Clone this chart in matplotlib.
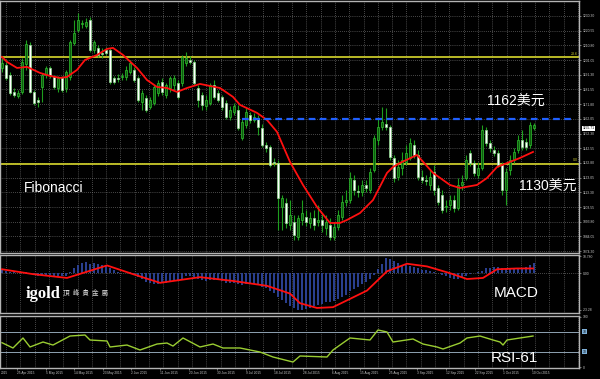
import matplotlib
matplotlib.use("Agg")
import numpy as np
import matplotlib.pyplot as plt
from matplotlib.transforms import blended_transform_factory

# ---- daily gold candles (bar index 0..133), prices in USD ----
opens = [1195.8, 1197.8, 1191.2, 1179.9, 1177.2, 1179.9, 1198.4, 1211.1, 1179.9, 1174.6,
         1183.2, 1191.2, 1195.8, 1189.8, 1182.5, 1189.2, 1182.5, 1189.8, 1212.4, 1221.0,
         1225.0, 1223.7, 1227.6, 1207.7, 1209.1, 1205.7, 1207.7, 1207.7, 1189.2, 1189.2,
         1189.8, 1189.8, 1193.1, 1194.5, 1189.2, 1173.2, 1175.9, 1169.9, 1172.6, 1179.2,
         1186.5, 1177.9, 1182.5, 1184.5, 1185.8, 1185.8, 1199.1, 1201.1, 1199.8, 1182.5,
         1177.9, 1170.6, 1172.6, 1184.5, 1179.2, 1176.6, 1172.6, 1163.3, 1166.6, 1167.9,
         1149.4, 1158.0, 1164.6, 1161.3, 1162.6, 1156.0, 1144.7, 1143.4, 1133.5, 1132.8,
         1103.6, 1106.3, 1091.7, 1093.7, 1083.7, 1095.0, 1097.0, 1093.0, 1096.3, 1093.7,
         1095.0, 1089.7, 1091.7, 1083.7, 1090.3, 1097.0, 1106.9, 1108.2, 1121.5, 1114.2,
         1113.6, 1118.2, 1114.9, 1128.1, 1148.0, 1156.7, 1158.7, 1156.7, 1136.1, 1123.5,
         1129.5, 1133.5, 1136.1, 1144.7, 1138.1, 1123.5, 1121.5, 1118.2, 1126.8, 1116.2,
         1111.6, 1103.6, 1104.9, 1108.2, 1102.9, 1118.2, 1122.8, 1139.4, 1132.8, 1124.8,
         1129.5, 1154.7, 1146.1, 1141.4, 1139.4, 1131.5, 1114.9, 1128.1, 1134.8, 1141.4,
         1148.0, 1146.7, 1144.7, 1156.0]
closes = [1199.1, 1189.2, 1179.2, 1177.9, 1179.2, 1199.8, 1211.7, 1179.9, 1172.6, 1173.2,
          1191.2, 1195.8, 1191.2, 1183.2, 1189.2, 1181.2, 1193.1, 1213.0, 1219.0, 1227.6,
          1225.6, 1226.3, 1207.7, 1213.0, 1204.4, 1205.1, 1205.7, 1186.5, 1186.5, 1188.5,
          1190.5, 1194.5, 1199.1, 1187.8, 1174.6, 1179.2, 1167.9, 1174.6, 1183.2, 1185.8,
          1179.9, 1184.5, 1189.2, 1189.2, 1176.6, 1203.1, 1202.4, 1199.8, 1185.8, 1174.6,
          1171.3, 1174.6, 1184.5, 1176.6, 1174.6, 1169.9, 1163.3, 1167.9, 1170.6, 1156.0,
          1160.0, 1166.6, 1161.3, 1163.3, 1156.7, 1144.7, 1142.7, 1131.5, 1132.8, 1109.6,
          1109.6, 1093.0, 1098.3, 1085.0, 1096.3, 1099.6, 1093.7, 1096.3, 1091.7, 1095.0,
          1091.7, 1093.7, 1083.7, 1090.3, 1098.3, 1106.9, 1108.2, 1122.8, 1114.9, 1113.6,
          1118.2, 1116.2, 1126.8, 1149.4, 1156.7, 1160.0, 1156.7, 1136.8, 1122.8, 1130.1,
          1134.8, 1139.4, 1146.1, 1138.1, 1123.5, 1121.5, 1120.8, 1123.5, 1114.9, 1106.9,
          1101.6, 1104.3, 1108.2, 1102.9, 1118.2, 1120.2, 1134.8, 1132.8, 1126.2, 1129.5,
          1154.7, 1146.1, 1142.7, 1139.4, 1131.5, 1114.9, 1126.8, 1134.8, 1140.1, 1148.0,
          1143.4, 1143.4, 1158.0, 1158.0]
highs = [1202.4, 1199.8, 1193.1, 1182.5, 1181.2, 1202.4, 1214.4, 1213.0, 1181.2, 1176.6,
         1192.5, 1197.1, 1197.1, 1191.2, 1190.5, 1190.5, 1194.5, 1214.4, 1227.6, 1232.3,
         1227.6, 1229.0, 1229.6, 1214.4, 1211.1, 1209.1, 1209.7, 1209.1, 1190.5, 1191.8,
         1192.5, 1197.1, 1201.1, 1196.5, 1190.5, 1181.2, 1177.9, 1176.6, 1184.5, 1187.8,
         1189.2, 1185.8, 1190.5, 1191.2, 1187.8, 1204.4, 1206.4, 1203.8, 1201.1, 1184.5,
         1179.9, 1177.9, 1185.8, 1187.8, 1181.2, 1177.9, 1174.6, 1170.6, 1172.6, 1171.3,
         1162.6, 1169.3, 1166.6, 1166.0, 1164.6, 1158.7, 1146.7, 1144.7, 1136.1, 1134.8,
         1111.6, 1109.6, 1108.2, 1098.3, 1098.3, 1108.2, 1101.6, 1100.3, 1101.6, 1104.9,
         1099.6, 1098.3, 1096.3, 1093.7, 1101.6, 1111.6, 1114.9, 1126.8, 1124.8, 1118.2,
         1121.5, 1121.5, 1129.5, 1151.4, 1162.6, 1169.9, 1169.3, 1158.0, 1138.1, 1134.8,
         1140.1, 1144.7, 1149.4, 1148.0, 1141.4, 1128.1, 1124.8, 1128.1, 1131.5, 1118.2,
         1114.9, 1108.2, 1111.6, 1111.6, 1122.8, 1124.8, 1138.1, 1141.4, 1134.8, 1133.5,
         1158.0, 1156.7, 1148.0, 1144.1, 1141.4, 1133.5, 1129.5, 1138.1, 1142.7, 1151.4,
         1154.7, 1149.4, 1160.0, 1159.3]
lows = [1193.1, 1187.8, 1177.9, 1176.6, 1175.9, 1178.6, 1194.5, 1179.2, 1171.3, 1169.9,
        1173.2, 1189.2, 1189.2, 1181.9, 1179.9, 1179.9, 1179.9, 1187.8, 1211.1, 1219.7,
        1222.3, 1222.3, 1206.4, 1205.7, 1203.1, 1202.4, 1204.4, 1185.2, 1185.2, 1186.5,
        1187.8, 1187.8, 1191.8, 1186.5, 1173.2, 1167.9, 1166.6, 1168.6, 1171.3, 1177.2,
        1177.9, 1175.9, 1179.9, 1181.2, 1175.2, 1183.9, 1197.1, 1198.4, 1184.5, 1169.9,
        1167.9, 1167.9, 1171.3, 1175.2, 1173.2, 1167.9, 1162.0, 1161.3, 1164.6, 1154.7,
        1148.0, 1156.0, 1159.3, 1160.0, 1151.4, 1143.4, 1140.1, 1130.1, 1130.8, 1088.3,
        1088.3, 1089.7, 1088.3, 1081.7, 1081.7, 1091.7, 1091.0, 1089.7, 1088.3, 1091.0,
        1087.0, 1085.0, 1081.7, 1081.7, 1088.3, 1095.0, 1104.3, 1106.3, 1111.6, 1110.2,
        1110.9, 1113.6, 1112.9, 1126.8, 1144.7, 1154.7, 1154.7, 1134.8, 1120.2, 1121.5,
        1124.8, 1131.5, 1134.8, 1136.1, 1121.5, 1119.5, 1118.2, 1114.9, 1111.6, 1104.9,
        1099.6, 1100.3, 1101.6, 1100.3, 1101.6, 1114.9, 1121.5, 1130.8, 1124.2, 1122.8,
        1128.1, 1144.1, 1140.1, 1137.4, 1130.1, 1111.6, 1104.9, 1124.8, 1132.8, 1139.4,
        1141.4, 1141.4, 1142.7, 1154.7]

# moving average (red), sampled along the curve
ma_x = [0, 1.25, 3.75, 6.25, 9.5, 12, 14.5, 16.25, 18.75, 20.75, 23.75, 26.25, 27.75,
        30.25, 33.75, 36.25, 38.75, 41.25, 43.75, 46.25, 49.5, 54.5, 57.75, 59.5, 63.75,
        66.25, 68.75, 72, 75.25, 78.75, 82, 84.5, 86.25, 89.5, 92.75, 96.25, 97.75, 99.5,
        103.75, 107.75, 112, 114.5, 118.75, 121.25, 123.75, 127, 129.5, 132.75]
ma_y = [1203.1, 1199.8, 1195.8, 1196.5, 1192.5, 1190.5, 1189.2, 1189.8, 1194.5, 1201.1,
        1204.4, 1208.4, 1209.1, 1204.4, 1195.8, 1187.8, 1183.2, 1182.5, 1179.9, 1182.5,
        1185.2, 1182.5, 1176.6, 1171.3, 1166.0, 1161.3, 1153.4, 1133.5, 1118.2, 1103.6,
        1093.0, 1093.0, 1095.0, 1099.6, 1108.2, 1126.2, 1130.1, 1132.8, 1138.1, 1126.2,
        1118.2, 1116.2, 1118.2, 1122.8, 1130.1, 1133.5, 1136.1, 1140.1]

fib_levels = [1203.1, 1132.3]
fib_names = ["23.6", "0.0"]
target_price = 1162.0
last_price = 1155.7

# MACD histogram (one value per bar) and signal line samples
macd_hist = [2.0, 1.5, 1.0, 0.5, 0.0, 0.5, 1.0, 0.0,
             -1.0, -1.5, -1.5, -1.0, -1.0, -1.5, -2.0, -2.0, -1.5,
             0.5, 3.0, 5.0, 6.5, 7.0, 6.0, 6.5, 6.0, 5.5, 5.0, 3.0,
             2.0, 1.0, 0.0, 0.0, 0.5, -0.5, -2.5,
             -3.5, -5.5, -6.5, -7.0, -7.0, -6.5, -6.0, -5.0, -4.5, -5.0,
             -3.5, -2.0, -1.5, -2.5, -3.5, -4.5,
             -5.0, -4.5, -4.0, -4.5, -5.0, -6.0, -6.5, -6.5, -7.0, -7.5, -7.0, -7.0, -7.0, -7.5,
             -8.5, -9.5, -11.0, -12.5, -15.0, -17.0, -19.0, -21.0, -22.0, -23.0,
             -23.0, -22.5, -22.0, -21.0, -20.0, -19.5, -18.5, -18.0, -17.5, -16.5,
             -15.0, -13.5, -11.5, -10.0, -8.5, -7.0, -5.5, -3.5, -1.0, 2.5, 6.0,
             9.5, 9.0, 8.0, 6.5, 5.5, 5.0, 4.5, 4.0, 3.0, 2.0,
             2.0, 1.5, 1.0, 0.0, -1.0, -2.0, -3.0, -3.5,
             -3.5, -2.5, -1.5, -0.5, 0.0, 0.5, 1.5,
             3.0, 3.5, 4.0, 4.0, 3.0, 2.5, 2.5, 3.0, 3.5, 3.5, 4.0, 5.0, 6.5]
sig_x = [0, 7.75, 16.25, 26.25, 32.75, 39.5, 49.5, 57.75, 66.25, 72, 74.5, 78.75, 82.75,
         91.25, 96.25, 101.25, 106.25, 112, 116.25, 120.25, 123.75, 128.75, 132.75]
sig_y = [2.5, -0.6, -3.0, 4.9, -0.6, -6.1, -2.5, -4.9, -8.0, -12.9, -19.0, -22.0, -21.5,
         -11.0, 1.2, 6.0, 4.3, 0.0, -3.7, -3.0, 2.5, 3.0, 3.0]

# RSI(61) samples
rsi_x = [0, 2.75, 5.25, 7, 10.25, 12.75, 17, 20.75, 22, 26.25, 27, 31.25, 34.5, 38.75,
         41.25, 42.75, 45.25, 49.5, 52.75, 55.25, 59.5, 64.5, 67.75, 72.75, 74.5, 81.25,
         82.75, 87, 92, 94, 96.25, 97.75, 102.75, 105.25, 108.75, 110.25, 114.5, 116.25,
         119.5, 122.75, 124.5, 125.25, 126.25, 129.5, 132.75]
rsi_y = [48.3, 37.8, 57.7, 39.8, 49.7, 43.7, 61.6, 63.6, 53.7, 51.7, 39.8, 43.7, 33.8, 45.7,
         47.7, 41.7, 57.7, 39.8, 45.7, 37.8, 37.8, 29.8, 19.9, 9.9, 21.9, 19.9, 33.8, 57.7,
         53.7, 73.6, 69.6, 49.7, 55.7, 45.7, 39.8, 35.8, 47.7, 57.7, 61.6, 53.7, 49.7, 43.7,
         53.7, 57.7, 61.6]

price_ticks = [1230.30, 1220.55, 1210.80, 1201.05, 1191.30, 1181.55, 1171.80, 1162.05,
               1152.30, 1142.55, 1132.80, 1123.05, 1113.30, 1103.55, 1093.80, 1084.05, 1074.30]
date_pos = [3.75, 10.9, 18.05, 25.2, 32.35, 39.5, 46.65, 53.8, 60.95, 68.1, 75.25, 82.4,
            89.55, 96.7, 103.85, 111.0, 118.15, 125.3, 132.45]
date_labels = ["25 Apr 2015", "5 May 2015", "14 May 2015", "23 May 2015", "2 Jun 2015",
               "11 Jun 2015", "20 Jun 2015", "30 Jun 2015", "9 Jul 2015", "18 Jul 2015",
               "28 Jul 2015", "6 Aug 2015", "15 Aug 2015", "25 Aug 2015", "3 Sep 2015",
               "12 Sep 2015", "22 Sep 2015", "1 Oct 2015", "10 Oct 2015"]

plt.rcParams['font.family'] = ['Liberation Sans', 'Noto Sans CJK TC', 'DejaVu Sans']

BG = 'black'
GRID = '#8c8c8c'
FRAME = '#b4b4b4'
AXTXT = '#c8c8c8'
XMAX = 144.25

fig = plt.figure(figsize=(6, 3.79), dpi=100, facecolor=BG)
ax = fig.add_axes([0, 0.3325, 0.965, 0.6649], facecolor=BG)
axm = fig.add_axes([0, 0.1741, 0.965, 0.1530], facecolor=BG)
axr = fig.add_axes([0, 0.0290, 0.965, 0.1372], facecolor=BG)

vgrid = np.arange(1, XMAX, 3.575)
for a in (ax, axm, axr):
    a.set_xlim(-0.5, XMAX)
    for s in a.spines.values():
        s.set_color(FRAME)
        s.set_linewidth(1.0)
    a.yaxis.tick_right()
    a.tick_params(axis='y', labelsize=2.4, colors=AXTXT, length=1.5, width=0.4, pad=1)
    for xv in vgrid:
        a.axvline(xv, color=GRID, lw=0.5, ls=(0, (1, 2)), zorder=0)

# ---- main candle panel ----
ax.set_ylim(1073.1, 1240.2)
ax.set_yticks(price_ticks)
ax.set_yticklabels(["%.2f" % v for v in price_ticks])
ax.set_xticks([])
for yv in price_ticks:
    ax.axhline(yv, color=GRID, lw=0.5, ls=(0, (1, 2)), zorder=0)

idx = np.arange(len(opens))
o = np.array(opens); c = np.array(closes)
up = c >= o
ax.vlines(idx, lows, highs, color='#1e9e1e', lw=0.8, zorder=2)
body_lo = np.minimum(o, c)
body_h = np.maximum(np.abs(c - o), 0.5)
ax.bar(idx[up], body_h[up], bottom=body_lo[up], width=0.72, color='#0d5c0d',
       edgecolor='#2fc02f', linewidth=0.5, zorder=3)
ax.bar(idx[~up], body_h[~up], bottom=body_lo[~up], width=0.72, color='white',
       edgecolor='#8fd88f', linewidth=0.5, zorder=3)

ax.plot(ma_x, ma_y, color='#ff1010', lw=1.3, zorder=4)

for lvl, name in zip(fib_levels, fib_names):
    ax.axhline(lvl, color='#c8c82a', lw=1.3, zorder=1)
    ax.text(XMAX - 0.3, lvl + 0.8, name, color='#c8c82a', fontsize=2.6,
            ha='right', va='bottom')
ax.plot([60, XMAX - 1], [target_price, target_price], color='#2060ff', lw=1.6,
        ls=(0, (3, 2)), zorder=4)

tr = blended_transform_factory(ax.transAxes, ax.transData)
ax.text(1.006, last_price, "1155.71", transform=tr, fontsize=2.4, color='black',
        va='center', ha='left', clip_on=False,
        bbox=dict(boxstyle='square,pad=0.15', fc='white', ec='none'))

ax.text(128.5, 1173.5, "1162美元", color='white', fontsize=10, ha='center', va='center')
ax.text(136.5, 1116.8, "1130美元", color='white', fontsize=10, ha='center', va='center')
ax.text(5.5, 1116.0, "Fibonacci", color='white', fontsize=10, ha='left', va='center')

# ---- MACD panel ----
axm.set_ylim(-25.2, 11.5)
axm.set_yticks([10.78, 0.0, -23.28])
axm.set_yticklabels(["10.780", "0.00", "-23.28"])
axm.set_xticks([])
axm.axhline(0, color=GRID, lw=0.5, ls=(0, (1, 2)), zorder=0)
axm.bar(idx, macd_hist, width=0.35, color='#2a3f8f', zorder=2)
axm.plot(sig_x, sig_y, color='#ff1010', lw=1.3, zorder=3)
axm.text(128.5, -12.5, "MACD", color='white', fontsize=11, ha='center', va='center')
axm.text(6.0, -13.0, "igold", color='white', fontsize=12, fontweight='bold',
         family=['Liberation Serif', 'DejaVu Serif'], ha='left', va='center')
axm.text(15.3, -12.8, "頂  峰  貴  金  屬", color='#d8d8d8', fontsize=4.8,
         family=['Noto Sans CJK TC'], ha='left', va='center')

# ---- RSI panel ----
axr.set_ylim(-2, 101.4)
axr.set_yticks([100, 0])
axr.set_yticklabels(["100", "0"])
for lvl in (70, 30):
    axr.axhline(lvl, color='#8fa3b3', lw=0.7, zorder=1)
    axr.text(1.006, lvl, str(lvl), transform=blended_transform_factory(axr.transAxes, axr.transData),
             fontsize=2.4, color='black', va='center', ha='left', clip_on=False,
             bbox=dict(boxstyle='square,pad=0.15', fc='#7fb0d8', ec='none'))
axr.plot(rsi_x, rsi_y, color='#9acd32', lw=1.0, zorder=3)
axr.text(128.0, 18.0, "RSI-61", color='white', fontsize=11, ha='center', va='center')

axr.set_xticks(date_pos)
axr.set_xticklabels(date_labels, ha='left')
axr.tick_params(axis='x', labelsize=2.3, colors=AXTXT, length=1.5, width=0.4, pad=1)
# the earlier date label is cut by the left edge in the source; only its year shows
axr.text(0.002, -0.05, "2015", transform=axr.transAxes,
         fontsize=2.3, color=AXTXT, ha='left', va='top', clip_on=False)

fig.savefig("out.png", dpi=100, facecolor=BG)
